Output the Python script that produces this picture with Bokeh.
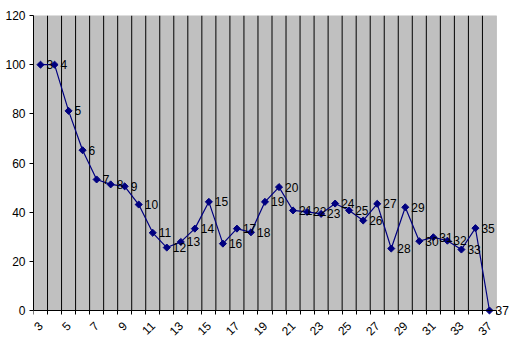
import math
from bokeh.plotting import figure
from bokeh.models import ColumnDataSource, FixedTicker, LabelSet, Range1d, BoxAnnotation
from bokeh.core.properties import value
from bokeh.embed import file_html
from bokeh.resources import INLINE

categories = ["3", "4", "5", "6", "7", "8", "9", "10", "11", "12", "13", "14",
              "15", "16", "17", "18", "19", "20", "21", "22", "23", "24", "25",
              "26", "27", "28", "29", "30", "31", "32", "33", "35", "37"]
values = [100, 100, 81.2, 65.2, 53.3, 51.3, 50.5, 43.1, 31.6, 25.6, 27.9, 33.3,
          44.2, 27.2, 33.3, 31.8, 44.2, 50.2, 40.7, 40.1, 39.3, 43.5, 40.7,
          36.6, 43.4, 25.2, 42.0, 28.2, 29.8, 28.4, 24.8, 33.5, 0]
y_ticks = [0, 20, 40, 60, 80, 100, 120]

n = len(categories)
xs = list(range(n))
src = ColumnDataSource(dict(x=xs, y=values, lab=categories))

# frame: top 15px, bottom 345px; the value axis 0..120 spans 15px..310px
x_lo, x_hi = -0.5, n - 0.5
y_lo, y_hi = 0, 120
y_pad = 35 * (y_hi - y_lo) / 295.0
p = figure(width=521, height=349, output_backend="svg", toolbar_location=None,
           x_range=Range1d(x_lo, x_hi + 1.0), y_range=Range1d(y_lo - y_pad, y_hi),
           min_border_left=33, min_border_right=11, min_border_top=15,
           min_border_bottom=4)
p.background_fill_color = "white"
p.border_fill_color = "white"
p.outline_line_color = None

p.add_layout(BoxAnnotation(left=x_lo, right=x_hi, bottom=y_lo, top=y_hi,
                           fill_color="#C0C0C0", fill_alpha=1,
                           line_color="#808080", line_width=1, level="image"))

label_pos = list(range(0, n, 2))
boundaries = [i - 0.5 for i in range(n + 1)]
p.xaxis.ticker = FixedTicker(ticks=label_pos, minor_ticks=boundaries)
p.xaxis.major_label_overrides = {i: categories[i] for i in label_pos}
p.xaxis.bounds = (x_lo, x_hi)
p.xaxis.fixed_location = y_lo
p.xaxis.major_tick_out = 0
p.xaxis.major_tick_in = 0
p.xaxis.minor_tick_out = 4
p.xaxis.minor_tick_in = 0
p.xaxis.minor_tick_line_color = "black"
p.xaxis.major_label_orientation = math.pi / 4
p.xaxis.axis_line_color = "black"

p.yaxis.ticker = FixedTicker(ticks=y_ticks)
p.yaxis.bounds = (y_lo, y_hi)
p.yaxis.major_tick_out = 4
p.yaxis.major_tick_in = 0
p.yaxis.minor_tick_out = 0
p.yaxis.minor_tick_in = 0
p.yaxis.axis_line_color = "black"

for ax in (p.xaxis, p.yaxis):
    ax.major_label_text_font = "Liberation Sans"
    ax.major_label_text_font_size = "12px"
    ax.major_label_text_color = "black"
p.yaxis.major_label_standoff = 4
p.xaxis.major_label_standoff = 9

p.xgrid.grid_line_color = None
p.ygrid.grid_line_color = None
inner = boundaries[1:-1]
p.segment(x0=inner, y0=[y_lo] * len(inner), x1=inner, y1=[y_hi] * len(inner),
          line_color="black", line_width=1)

p.line("x", "y", source=src, line_color="#000080", line_width=1.2)
p.scatter("x", "y", source=src, marker="square", angle=math.pi / 4, size=5,
          fill_color="#000080", line_color="#000080")

labels = LabelSet(x="x", y="y", text="lab", source=src, x_offset=6,
                  text_baseline="middle", text_align="left",
                  text_font=value("Liberation Sans"), text_font_size=value("12px"),
                  text_color="black")
p.add_layout(labels)

open("out.html", "w").write(file_html(p, INLINE))
